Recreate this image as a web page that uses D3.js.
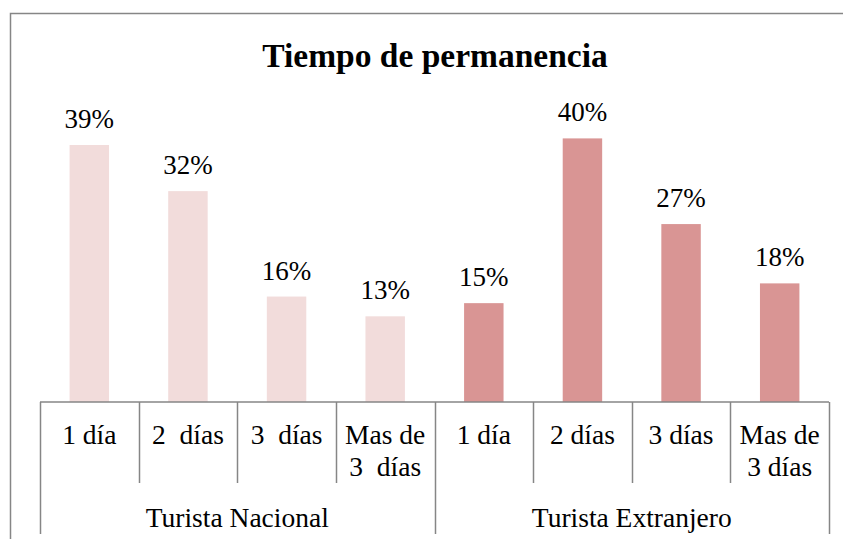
<!DOCTYPE html>
<html>
<head>
<meta charset="utf-8">
<script src="https://cdn.jsdelivr.net/npm/d3@7"></script>
<style>
  html, body { margin: 0; padding: 0; background: #ffffff; }
  svg { display: block; }
</style>
</head>
<body>
<svg id="chart" width="843" height="539"></svg>
<script>
// Tiempo de permanencia por tipo de turista
const title = "Tiempo de permanencia";
const groups = ["Turista Nacional", "Turista Extranjero"];
const categories = ["1 día", "2  días", "3  días", "Mas de\n3  días",
                    "1 día", "2 días", "3 días", "Mas de\n3 días"];
const categoryGroup = [0, 0, 0, 0, 1, 1, 1, 1];
const values = [39, 32, 16, 13, 15, 40, 27, 18];
const groupColors = ["#F2DCDB", "#D99594"];

const FONT = "'Times New Roman', Times, 'Liberation Serif', 'DejaVu Serif', serif";
const W = 843, H = 539;
const axisLeft = 40, axisRight = 829, axisY = 402;
const pxPerPct = 6.59;
const yMax = 45;

const svg = d3.select("#chart")
  .attr("font-family", FONT);

// outer chart frame (continues past the right and bottom edges)
svg.append("path")
  .attr("d", `M10.5,${H + 2} V13.5 H${W + 2}`)
  .attr("fill", "none")
  .attr("stroke", "#868686")
  .attr("stroke-width", 1.5);

// title
svg.append("text")
  .attr("x", 435)
  .attr("y", 67)
  .attr("text-anchor", "middle")
  .attr("font-family", FONT)
  .attr("font-weight", "bold")
  .attr("font-size", 33.5)
  .text(title);

const ids = categories.map((c, i) => i);

// one slot per category, and a narrower band for each bar
const xSlot = d3.scaleBand().domain(ids).range([axisLeft, axisRight]).padding(0);
const xBar = d3.scaleBand().domain(ids).range([axisLeft, axisRight])
  .paddingInner(0.6).paddingOuter(0.3);
const y = d3.scaleLinear().domain([0, yMax]).range([axisY, axisY - yMax * pxPerPct]);

// bars
svg.append("g").selectAll("rect")
  .data(ids)
  .join("rect")
  .attr("x", i => xBar(i))
  .attr("width", xBar.bandwidth())
  .attr("y", i => y(values[i]))
  .attr("height", i => y(0) - y(values[i]))
  .attr("fill", i => groupColors[categoryGroup[i]]);

// value labels
svg.append("g").selectAll("text")
  .data(ids)
  .join("text")
  .attr("x", i => xBar(i) + xBar.bandwidth() / 2)
  .attr("y", i => y(values[i]) - 17)
  .attr("text-anchor", "middle")
  .attr("font-family", FONT)
  .attr("font-size", 27)
  .text(i => values[i] + "%");

// category axis
const axis = svg.append("g")
  .attr("stroke", "#868686")
  .attr("stroke-width", 1.5)
  .attr("fill", "none");

axis.append("line")
  .attr("x1", axisLeft).attr("x2", axisRight)
  .attr("y1", axisY).attr("y2", axisY);

// slot dividers: short ones between categories, long ones at group edges
const edges = ids.map(i => xSlot(i)).concat([axisRight]);
edges.forEach((ex, k) => {
  const isGroupEdge = k === 0 || k === ids.length || categoryGroup[k] !== categoryGroup[k - 1];
  axis.append("line")
    .attr("x1", Math.round(ex) + 0.5).attr("x2", Math.round(ex) + 0.5)
    .attr("y1", axisY).attr("y2", isGroupEdge ? 534 : 483);
});

// category labels
const catText = svg.append("g").selectAll("text")
  .data(ids)
  .join("text")
  .attr("x", i => xSlot(i) + xSlot.bandwidth() / 2)
  .attr("y", 444)
  .attr("text-anchor", "middle")
  .attr("font-family", FONT)
  .attr("font-size", 27.5)
  .attr("xml:space", "preserve")
  .style("white-space", "pre");

catText.each(function (i) {
  const lines = categories[i].split("\n");
  const t = d3.select(this);
  lines.forEach((ln, j) => {
    t.append("tspan")
      .attr("x", xSlot(i) + xSlot.bandwidth() / 2)
      .attr("dy", j === 0 ? 0 : 32)
      .text(ln);
  });
});

// group labels
groups.forEach((g, gi) => {
  const members = ids.filter(i => categoryGroup[i] === gi);
  const x0 = xSlot(members[0]);
  const x1 = xSlot(members[members.length - 1]) + xSlot.bandwidth();
  svg.append("text")
    .attr("x", (x0 + x1) / 2)
    .attr("y", 527)
    .attr("text-anchor", "middle")
    .attr("font-family", FONT)
    .attr("font-size", 27.5)
    .text(g);
});
</script>
</body>
</html>
